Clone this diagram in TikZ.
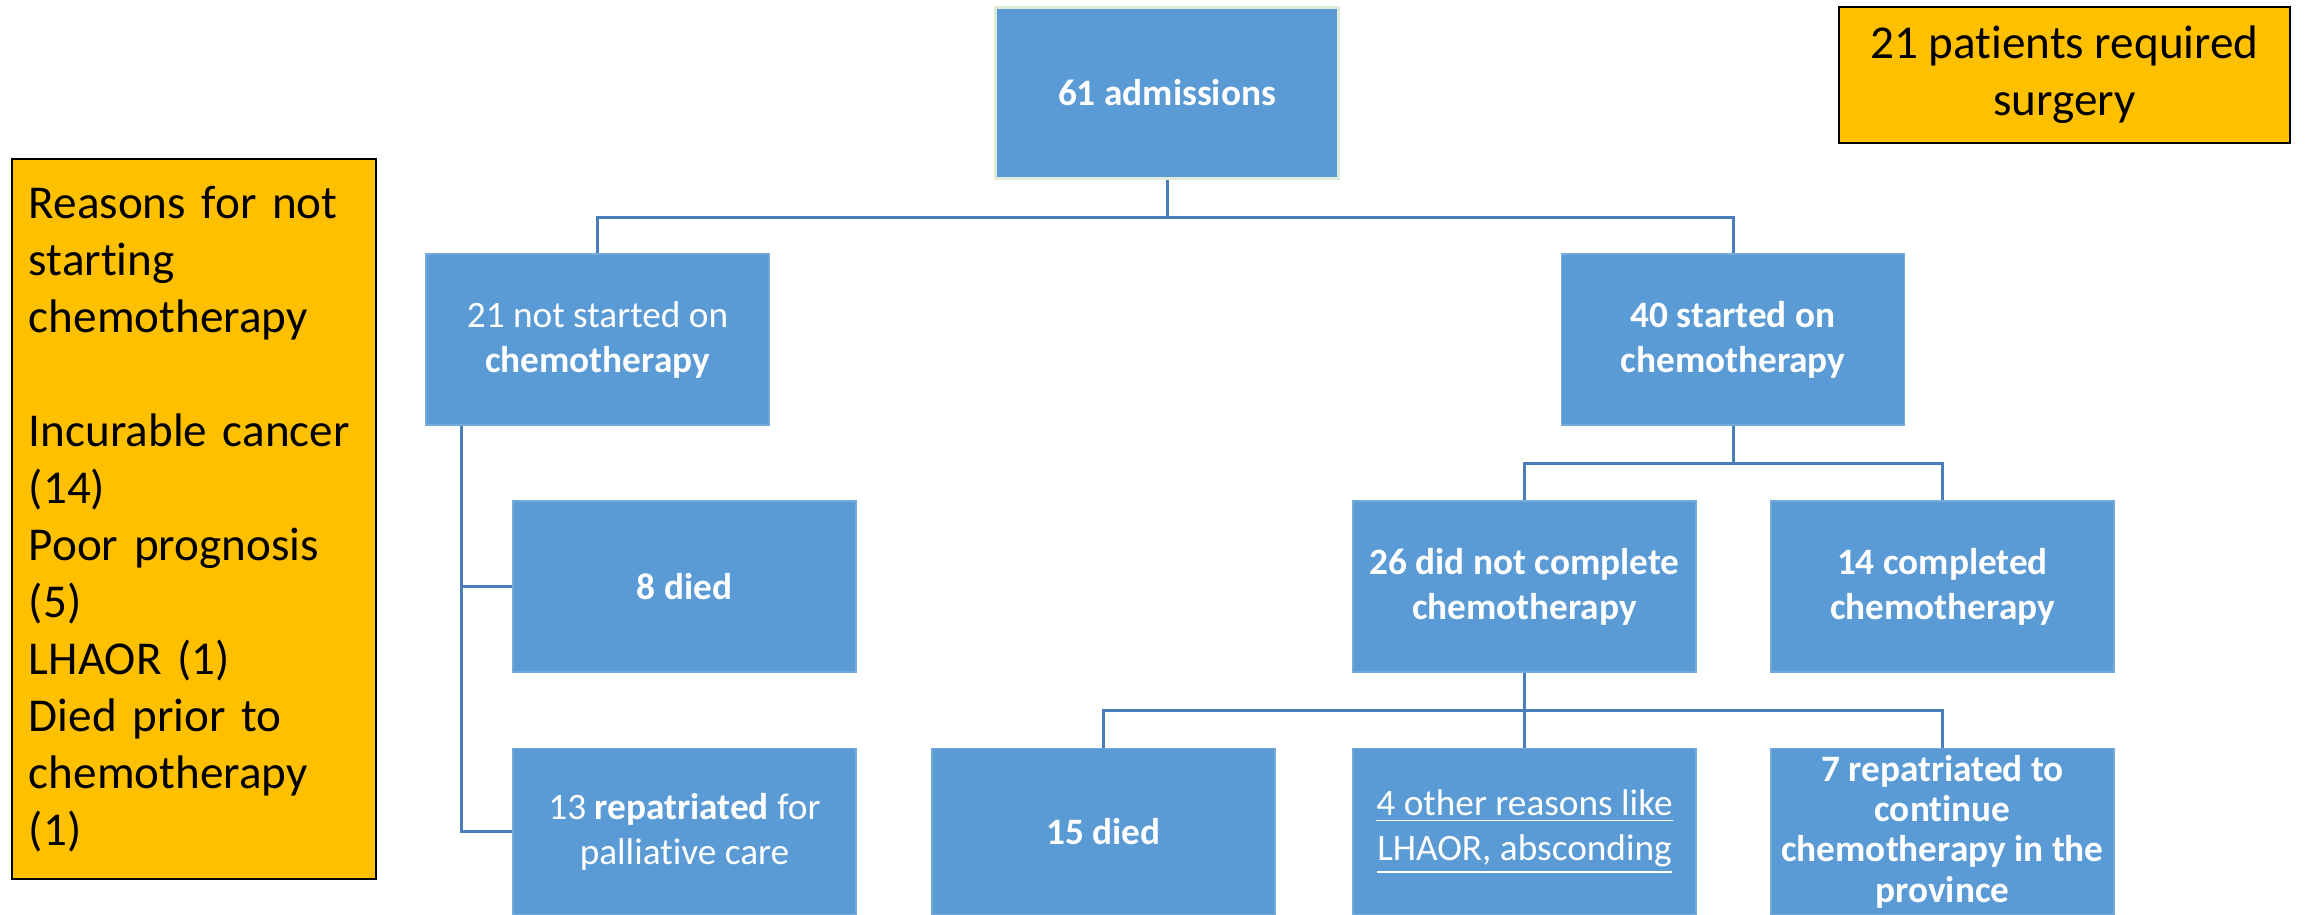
\documentclass[tikz,border=0pt]{standalone}
\usepackage{fontspec}
\setmainfont{Carlito}[Ligatures=NoCommon]
\usepackage{tikz}
\usetikzlibrary{positioning}
\definecolor{boxblue}{RGB}{91,155,213}
\definecolor{lineblue}{RGB}{74,126,187}
\definecolor{boxorange}{RGB}{255,192,0}
\definecolor{paleedge}{RGB}{222,235,214}
\tikzset {
    style A/.style={
        fill=boxblue,
        draw=boxblue!85!white,
        line width=0.4pt,
        text=white,
        rectangle, % plain blue box
        minimum width=3.43cm,
        minimum height=1.71cm,
        inner sep=0pt,
        align=center,
        font=\fontsize{10.6}{12.8}\selectfont,
    },
    style B/.style={
        style A,
        anchor=north,
        minimum height=1.66cm,
    },
    style C/.style={
        fill=boxorange,
        draw=black,
        line width=0.6pt,
        text=black,
        rectangle, % orange note box
        inner sep=0pt,
        font=\fontsize{13.4}{16.2}\selectfont,
    },
    link/.style={
        draw=lineblue,
        line width=0.85pt,
    },
}
\begin{document}
\begin{tikzpicture}
        [x=0.01cm, y=-0.01cm]
        \useasboundingbox (0,0) rectangle (2305,914);

        \node[style C, minimum width=3.64cm, minimum height=7.2cm, text width=3.3cm, align=left] at (194,519) (reasons)
            {Reasons for not\\starting\\chemotherapy\\[16.2pt]Incurable cancer\\(14)\\Poor prognosis\\(5)\\LHAOR (1)\\Died prior to\\chemotherapy\\(1)};
        \node[style C, minimum width=4.51cm, minimum height=1.36cm, align=center] at (2064.5,75) (surgery) {21 patients required\\surgery};

        \node[style A, draw=paleedge, line width=1pt] at (1167,93) (admissions) {\textbf{61 admissions}};
        \node[style A] at (597.5,339.5) (notstarted) {21 not started on\\\textbf{chemotherapy}};
        \node[style A] at (1733,339.5) (started) {\textbf{40 started on}\\\textbf{chemotherapy}};
        \node[style A] at (684.5,586.5) (died8) {\textbf{8 died}};
        \node[style A] at (1524.5,586.5) (notcompleted) {\textbf{26 did not complete}\\\textbf{chemotherapy}};
        \node[style A] at (1942.5,586.5) (completed) {\textbf{14 completed}\\\textbf{chemotherapy}};
        \node[style B] at (684.5,748) (repatpall) {13 \textbf{repatriated} for\\palliative care};
        \node[style B] at (1103.5,748) (died15) {\textbf{15 died}};
        \node[style B] at (1524.5,748) (otherreasons) {\underline{4 other reasons like}\\\underline{LHAOR, absconding}};
        \node[style B, inner ysep=0.04cm, font=\fontsize{10.6}{11.4}\selectfont] at (1942.5,748) (repatprov)
            {\textbf{7 repatriated to}\\\textbf{continue}\\\textbf{chemotherapy in the}\\\textbf{province}};

        \draw[link] (admissions.south) -- ++(0,37) -| (notstarted.north);
        \draw[link] (admissions.south) -- ++(0,37) -| (started.north);

        \draw[link] ([xshift=0.36cm]notstarted.south west) |- (died8.west);
        \draw[link] ([xshift=0.36cm]notstarted.south west) |- (repatpall.west);

        \draw[link] (started.south) -- ++(0,38) -| (notcompleted.north);
        \draw[link] (started.south) -- ++(0,38) -| (completed.north);

        \draw[link] (notcompleted.south) -- ++(0,38) -| (died15.north);
        \draw[link] (notcompleted.south) -- ++(0,38) -| (otherreasons.north);
        \draw[link] (notcompleted.south) -- ++(0,38) -| (repatprov.north);
    \end{tikzpicture}
\end{document}
